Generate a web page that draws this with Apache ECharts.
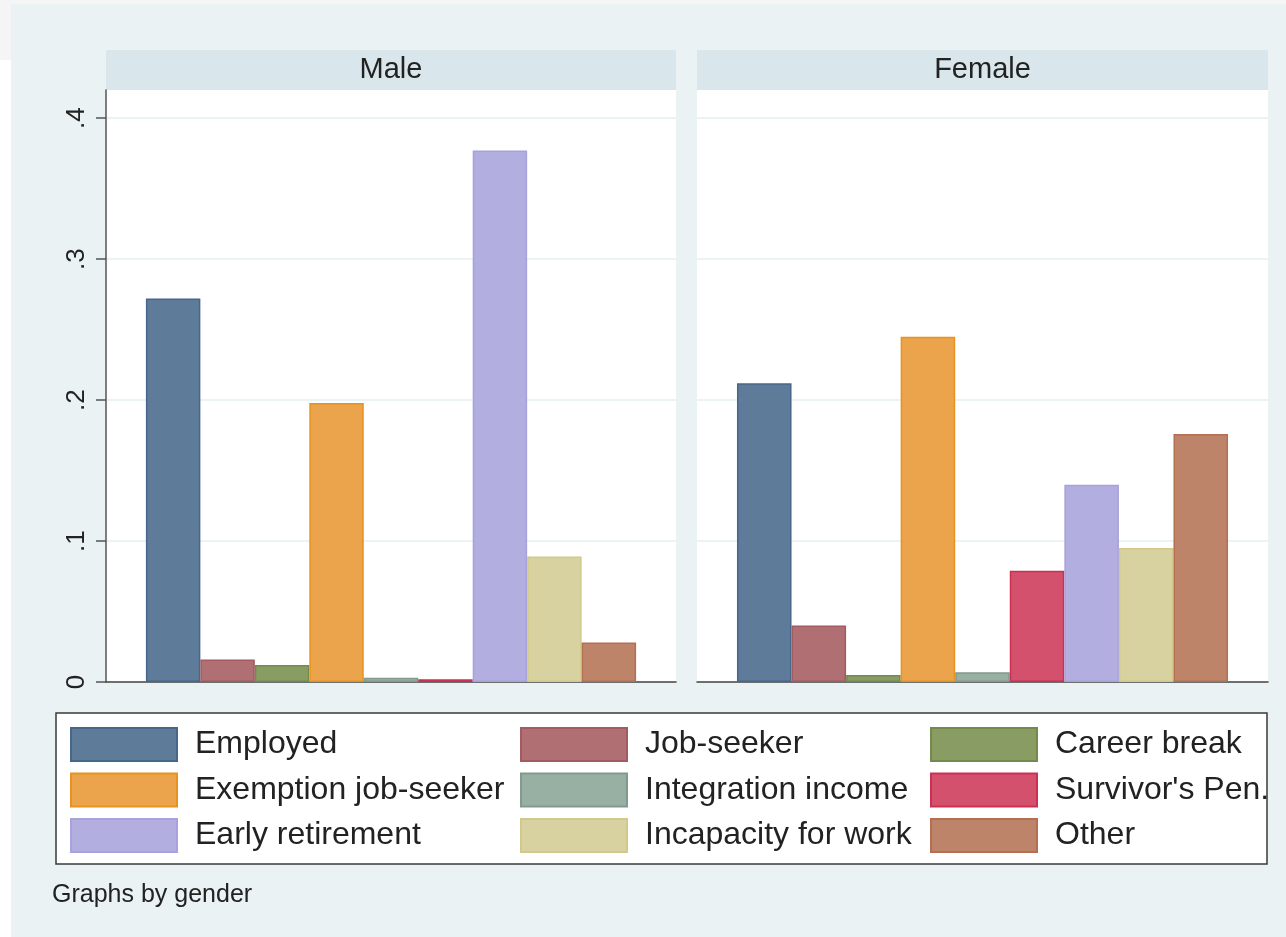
<!DOCTYPE html>
<html>
<head>
<meta charset="utf-8">
<script src="https://cdn.jsdelivr.net/npm/echarts@6/dist/echarts.min.js"></script>
<style>
html,body{margin:0;padding:0;background:#fff;}
#c{width:1286px;height:937px;}
</style>
</head>
<body>
<div id="c"></div>
<script>
// ---- data ----
const panels = ['Male', 'Female'];
const categories = ['Employed', 'Job-seeker', 'Career break', 'Exemption job-seeker', 'Integration income', "Survivor's Pen.", 'Early retirement', 'Incapacity for work', 'Other'];
const maleValues = [0.272, 0.016, 0.012, 0.198, 0.003, 0.002, 0.377, 0.089, 0.028];
const femaleValues = [0.212, 0.040, 0.005, 0.245, 0.007, 0.079, 0.140, 0.095, 0.176];
const yTicks = [0, 0.1, 0.2, 0.3, 0.4];
const yTickLabels = ['0', '.1', '.2', '.3', '.4'];
const note = 'Graphs by gender';

// ---- styles ----
const fills = ['#5e7b9a', '#b07073', '#889c64', '#eba44b', '#98afa4', '#d4516e', '#b3aee0', '#d8d2a0', '#be8469'];
const borders = ['#46678a', '#a35a60', '#728a4c', '#e8921f', '#82998d', '#cb2f52', '#a7a1dc', '#d0c98b', '#b46f52'];
const FONT = "'Liberation Sans', Arial, Helvetica, sans-serif";

const grids = [
  {left: 106, top: 90, width: 570, height: 592},
  {left: 697, top: 90, width: 571, height: 592}
];

const series = [];
[maleValues, femaleValues].forEach((vals, p) => {
  categories.forEach((name, i) => {
    series.push({
      type: 'bar',
      name: name,
      xAxisIndex: p,
      yAxisIndex: p,
      data: [vals[i]],
      barGap: '0%',
      barCategoryGap: '14%',
      itemStyle: {color: fills[i], borderColor: borders[i], borderWidth: 1.5},
      emphasis: {disabled: true}
    });
  });
});

function legendCol(idx, left) {
  return {
    orient: 'vertical',
    left: left,
    top: 727,
    icon: 'rect',
    itemWidth: 106,
    itemHeight: 33,
    itemGap: 10.5,
    padding: 0,
    data: idx.map(i => categories[i]),
    itemStyle: {borderWidth: 2},
    textStyle: {fontFamily: FONT, fontSize: 32, color: '#222', lineHeight: 33, padding: [0, 0, 0, 13]},
    selectedMode: false
  };
}

const option = {
  backgroundColor: '#eaf2f3',
  animation: false,
  grid: grids.map(g => Object.assign({show: true, backgroundColor: '#ffffff', borderWidth: 0}, g)),
  xAxis: panels.map((p, k) => ({
    type: 'category',
    gridIndex: k,
    data: [p],
    axisLine: {show: true, lineStyle: {color: '#444', width: 1.5}},
    axisTick: {show: false},
    axisLabel: {show: false},
    splitLine: {show: false}
  })),
  yAxis: panels.map((p, k) => ({
    type: 'value',
    gridIndex: k,
    min: 0,
    max: 0.42,
    interval: 0.1,
    axisLine: {show: k === 0, lineStyle: {color: '#555', width: 1.5}},
    axisTick: {show: k === 0, length: 10, lineStyle: {color: '#555', width: 1.5}, customValues: yTicks},
    axisLabel: {
      show: k === 0,
      customValues: yTicks,
      rotate: 90,
      margin: 16,
      fontFamily: FONT,
      fontSize: 26,
      color: '#222',
      formatter: v => {
        const j = yTicks.findIndex(t => Math.abs(t - v) < 1e-9);
        return j >= 0 ? yTickLabels[j] : '';
      }
    },
    splitLine: {show: true, lineStyle: {color: '#e6eff1', width: 1.5}}
  })),
  legend: [legendCol([0, 3, 6], 70), legendCol([1, 4, 7], 520), legendCol([2, 5, 8], 930)],
  graphic: [
    {type: 'rect', silent: true, z: 0, shape: {x: 0, y: 0, width: 1286, height: 4}, style: {fill: '#f5f5f5'}},
    {type: 'rect', silent: true, z: 0, shape: {x: 0, y: 0, width: 11, height: 60}, style: {fill: '#f5f5f5'}},
    {type: 'rect', silent: true, z: 0, shape: {x: 0, y: 60, width: 11, height: 877}, style: {fill: '#ffffff'}},
    {type: 'rect', silent: true, z: 0, shape: {x: grids[0].left, y: 50, width: grids[0].width, height: 40}, style: {fill: '#d9e6eb'}},
    {type: 'rect', silent: true, z: 0, shape: {x: grids[1].left, y: 50, width: grids[1].width, height: 40}, style: {fill: '#d9e6eb'}},
    {type: 'text', silent: true, z: 1, x: grids[0].left + grids[0].width / 2, y: 70,
      style: {text: panels[0], fontFamily: FONT, fontSize: 29, fill: '#222', align: 'center', verticalAlign: 'middle'}},
    {type: 'text', silent: true, z: 1, x: grids[1].left + grids[1].width / 2, y: 70,
      style: {text: panels[1], fontFamily: FONT, fontSize: 29, fill: '#222', align: 'center', verticalAlign: 'middle'}},
    {type: 'rect', silent: true, z: 0, shape: {x: 56, y: 713, width: 1211, height: 151},
      style: {fill: '#ffffff', stroke: '#3a3a3a', lineWidth: 1.5}},
    {type: 'text', silent: true, z: 1, x: 52, y: 895,
      style: {text: note, fontFamily: FONT, fontSize: 25, fill: '#222', align: 'left', verticalAlign: 'middle'}}
  ],
  series: series
};

const chart = echarts.init(document.getElementById('c'), null, {renderer: 'canvas'});
chart.setOption(option);
</script>
</body>
</html>
